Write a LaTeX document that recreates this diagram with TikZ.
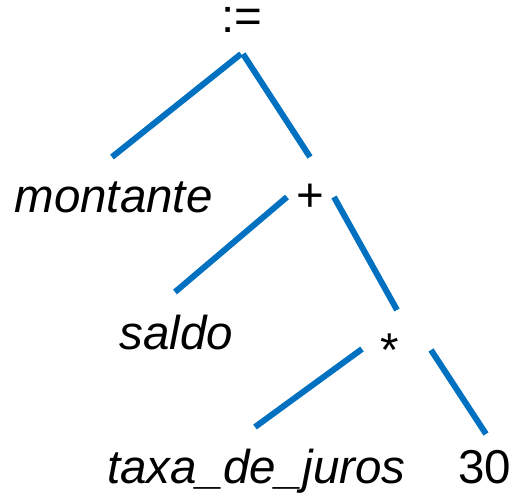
\documentclass[tikz,border=0pt]{standalone}
\usepackage{fontspec}
\setmainfont{Liberation Sans}
\definecolor{edgeblue}{RGB}{0,112,192}
\tikzset{
  lbl/.style={anchor=base, inner sep=0pt, font=\fontsize{47.5}{56}\selectfont},
  ilbl/.style={lbl, font=\fontsize{47.5}{56}\selectfont\itshape},
  edge/.style={draw=edgeblue, line width=6pt, line cap=butt}
}
\begin{document}
\begin{tikzpicture}[x=1pt,y=-1pt]
\useasboundingbox (0,0) rectangle (514,494);
\node[lbl, text height=25pt] (assign) at (242,33) {:=};
\node[ilbl] (montante) at (113.5,213) {montante};
\node[lbl] (plus) at (310.5,212) {+};
\node[ilbl] (saldo) at (176.5,349) {saldo};
\node[lbl] (times) at (390,366) {*};
\node[ilbl] (taxa) at (256.5,483) {taxa\_de\_juros};
\node[lbl] (thirty) at (485,483) {30};
\coordinate (a1) at (241,54);
\coordinate (a2) at (243,54);
\coordinate (m1) at (112,157);
\coordinate (p0) at (310,157);
\coordinate (p1) at (287,197);
\coordinate (p2) at (334,197);
\coordinate (s1) at (175,292);
\coordinate (t0) at (397,310);
\coordinate (t1) at (362,349);
\coordinate (t2) at (431,350);
\coordinate (x1) at (255,427);
\coordinate (n1) at (486,434);
\draw[edge] (a1) -- (m1);
\draw[edge] (a2) -- (p0);
\draw[edge] (p1) -- (s1);
\draw[edge] (p2) -- (t0);
\draw[edge] (t1) -- (x1);
\draw[edge] (t2) -- (n1);
\end{tikzpicture}
\end{document}
